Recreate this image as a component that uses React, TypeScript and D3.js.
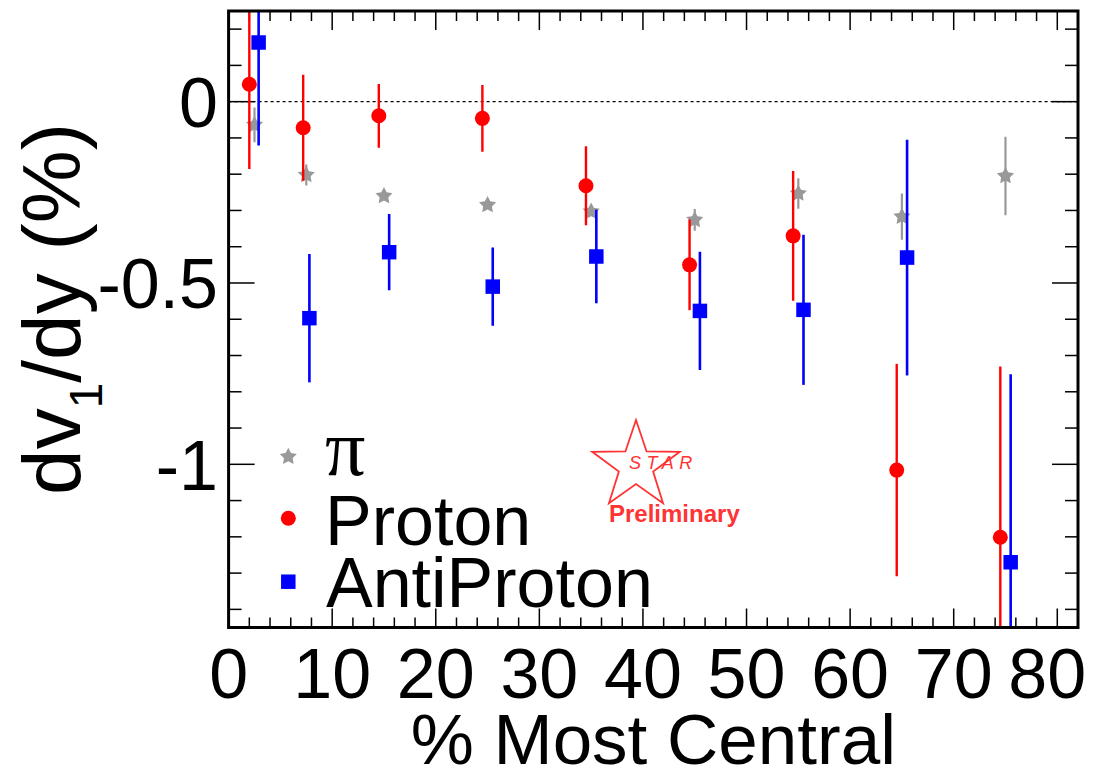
import React from 'react';
import * as d3 from 'd3';

// ---- data ----
const pionX = [2.5, 7.5, 15, 25, 35, 45, 55, 65, 75];
const pionV = [-0.064, -0.202, -0.26, -0.285, -0.303, -0.326, -0.253, -0.317, -0.205];
const pionE = [0.048, 0.029, 0.01, 0.01, 0.012, 0.03, 0.042, 0.064, 0.108];

const protonX = [2.0, 7.2, 14.5, 24.5, 34.5, 44.5, 54.5, 64.5, 74.5];
const protonV = [0.048, -0.072, -0.039, -0.046, -0.232, -0.45, -0.37, -1.016, -1.201];
const protonE = [0.234, 0.146, 0.088, 0.092, 0.109, 0.125, 0.179, 0.293, 0.471];

const antiX = [2.9, 7.8, 15.5, 25.5, 35.5, 45.5, 55.5, 65.5, 75.5];
const antiV = [0.163, -0.597, -0.415, -0.51, -0.427, -0.577, -0.574, -0.43, -1.27];
const antiE = [0.284, 0.177, 0.105, 0.108, 0.129, 0.163, 0.207, 0.325, 0.518];

const xMajorTicks = [0, 10, 20, 30, 40, 50, 60, 70, 80];
const xTickLabels = ['0', '10', '20', '30', '40', '50', '60', '70', '80'];
const yMajorTicks = [0, -0.5, -1];
const yTickLabels = ['0', '-0.5', '-1'];

const legendNames = ['π', 'Proton', 'AntiProton'];

const W = 1097;
const H = 770;
const L = 228.6, R = 1078, T = 11, B = 627.5;

const GRAY = '#999999';
const RED = '#ff0000';
const BLUE = '#0000ff';

// ROOT-like full star marker (plump five-pointed star)
function starPath(ro: number, ri: number): string {
  const pts: [number, number][] = d3.range(10).map((i) => {
    const a = -Math.PI / 2 + (i * Math.PI) / 5;
    const r = i % 2 === 0 ? ro : ri;
    return [r * Math.cos(a), r * Math.sin(a)];
  });
  return (d3.line()(pts) as string) + 'Z';
}

export default function App() {
  const x = d3.scaleLinear().domain([0, 82]).range([L, R]);
  const y = d3.scaleLinear().domain([-1.45, 0.25]).range([B, T]);

  const xMinor = d3.range(0, 83, 2);
  const yMinor = d3.range(-14, 3).map((i) => i / 10);

  const star = starPath(9, 4.6);
  const circ = d3.symbol().type(d3.symbolCircle).size(177)() as string;
  const sq = d3.symbol().type(d3.symbolSquare).size(210)() as string;

  const series = [
    { xs: pionX, vs: pionV, es: pionE, color: GRAY, path: star, w: 2.2 },
    { xs: protonX, vs: protonV, es: protonE, color: RED, path: circ, w: 2.4 },
    { xs: antiX, vs: antiV, es: antiE, color: BLUE, path: sq, w: 2.6 },
  ];

  const font = '"Liberation Sans", Arial, Helvetica, sans-serif';

  // STAR logo star polygon
  const logoCx = 636, logoCy = 466, Ro = 46, Ri = 18;
  const logoPts: [number, number][] = d3.range(10).map((i) => {
    const a = -Math.PI / 2 + (i * Math.PI) / 5;
    const r = i % 2 === 0 ? Ro : Ri;
    return [logoCx + r * Math.cos(a), logoCy + r * Math.sin(a)];
  });
  const logoPath = (d3.line()(logoPts) as string) + 'Z';

  return (
    <svg
      width={W}
      height={H}
      style={{ position: 'absolute', left: 0, top: 0, background: '#fff' }}
      fontFamily={font}
    >
      <defs>
        <clipPath id="plotclip">
          <rect x={L} y={T} width={R - L} height={B - T} />
        </clipPath>
      </defs>
      <rect x={0} y={0} width={W} height={H} fill="#fff" />

      {/* zero line */}
      <line x1={L} x2={R} y1={y(0)} y2={y(0)} stroke="#000" strokeWidth={1.2} strokeDasharray="3,3" />

      {/* ticks */}
      <g stroke="#000" strokeWidth={1.5}>
        {xMinor.map((v) => {
          const major = v % 10 === 0;
          const len = major ? 19 : 10;
          return (
            <g key={'xt' + v}>
              <line x1={x(v)} x2={x(v)} y1={B} y2={B - len} />
              <line x1={x(v)} x2={x(v)} y1={T} y2={T + len} />
            </g>
          );
        })}
        {yMinor.map((v) => {
          const major = Math.abs(v * 2 - Math.round(v * 2)) < 1e-6;
          const len = major ? 26 : 13;
          return (
            <g key={'yt' + v}>
              <line x1={L} x2={L + len} y1={y(v)} y2={y(v)} />
              <line x1={R} x2={R - len} y1={y(v)} y2={y(v)} />
            </g>
          );
        })}
      </g>

      {/* data */}
      <g clipPath="url(#plotclip)">
        {series.map((s, si) => (
          <g key={'s' + si}>
            {s.xs.map((xv, i) => (
              <line
                key={'e' + i}
                x1={x(xv)}
                x2={x(xv)}
                y1={y(s.vs[i] + s.es[i])}
                y2={y(s.vs[i] - s.es[i])}
                stroke={s.color}
                strokeWidth={s.w}
              />
            ))}
            {s.xs.map((xv, i) => (
              <path key={'m' + i} d={s.path} transform={`translate(${x(xv)},${y(s.vs[i])})`} fill={s.color} />
            ))}
          </g>
        ))}
      </g>

      {/* frame */}
      <rect x={L} y={T} width={R - L} height={B - T} fill="none" stroke="#000" strokeWidth={3} />

      {/* tick labels */}
      <g fontSize={70} fill="#000">
        {xMajorTicks.map((v, i) => {
          const last = i === xMajorTicks.length - 1;
          return (
            <text key={'xl' + v} x={last ? x(v) - 10 : x(v)} y={698} textAnchor="middle">
              {xTickLabels[i]}
            </text>
          );
        })}
        {yMajorTicks.map((v, i) => (
          <text key={'yl' + v} x={218} y={y(v) + 25.5} textAnchor="end">
            {yTickLabels[i]}
          </text>
        ))}
      </g>

      {/* axis titles */}
      <text x={(L + R) / 2} y={764} fontSize={71} textAnchor="middle" fill="#000">
        % Most Central
      </text>
      <text transform="translate(80,309) rotate(-90)" fontSize={82} textAnchor="middle" fill="#000">
        dv<tspan fontSize={46} dy={22}>1</tspan>
        <tspan dy={-22}>/dy (%)</tspan>
      </text>

      {/* legend */}
      <g>
        <path d={star} transform="translate(288.3,456.7)" fill={GRAY} />
        <path d={circ} transform="translate(288.3,518.3)" fill={RED} />
        <path d={sq} transform="translate(288.3,581.7)" fill={BLUE} />
        <text x={325} y={475} fontSize={80} fontFamily='"Liberation Serif", "DejaVu Serif", serif' fill="#000">
          {legendNames[0]}
        </text>
        <text x={325} y={545} fontSize={70} fill="#000">
          {legendNames[1]}
        </text>
        <text x={326} y={606.7} fontSize={70} fill="#000">
          {legendNames[2]}
        </text>
      </g>

      {/* STAR Preliminary logo */}
      <g>
        <path d={logoPath} fill="none" stroke="#ff3333" strokeWidth={1.8} />
        <text x={629} y={469} fontSize={18} fontStyle="italic" letterSpacing={5.5} fill="#ff3333">
          STAR
        </text>
        <text x={609} y={522} fontSize={24} fontWeight="bold" fill="#ff3333">
          Preliminary
        </text>
      </g>
    </svg>
  );
}
